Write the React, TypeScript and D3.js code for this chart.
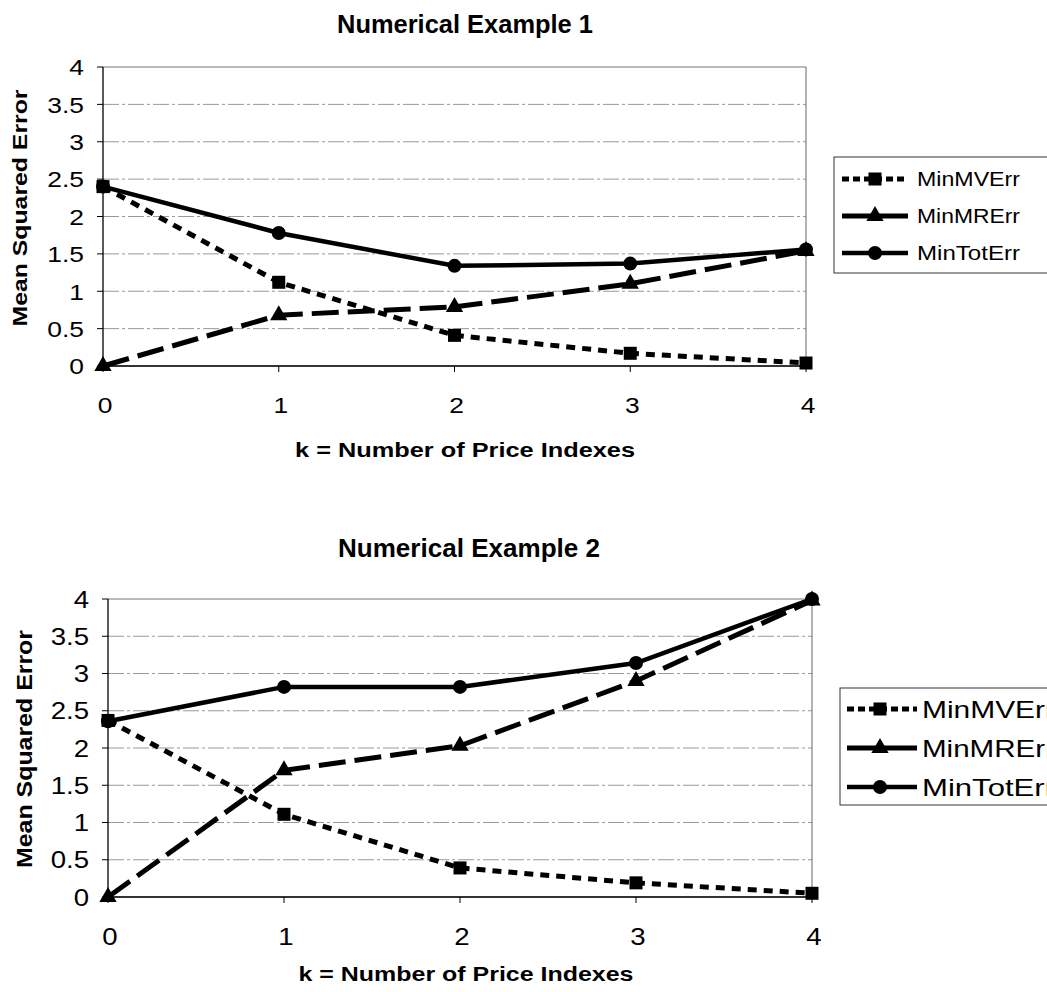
import React from "react";
import * as d3 from "d3";

// ---------- data ----------
const kValues = [0, 1, 2, 3, 4];
const kLabels = ["0", "1", "2", "3", "4"];
const yTickValues = [0, 0.5, 1, 1.5, 2, 2.5, 3, 3.5, 4];
const yTickLabels = ["0", "0.5", "1", "1.5", "2", "2.5", "3", "3.5", "4"];
const seriesNames = ["MinMVErr", "MinMRErr", "MinTotErr"];

const ex1MinMVErr = [2.4, 1.12, 0.41, 0.17, 0.04];
const ex1MinMRErr = [0, 0.68, 0.79, 1.1, 1.54];
const ex1MinTotErr = [2.4, 1.78, 1.34, 1.37, 1.56];

const ex2MinMVErr = [2.37, 1.11, 0.39, 0.19, 0.05];
const ex2MinMRErr = [0, 1.7, 2.03, 2.9, 3.98];
const ex2MinTotErr = [2.36, 2.82, 2.82, 3.14, 4.0];

const FONT = "'Liberation Sans', Arial, Helvetica, sans-serif";

type Layout = {
  x0: number; x1: number; yTop: number; yBottom: number;
  title: string; titleX: number; titleY: number; titleLen: number; titleSize: number;
  xTitleX: number; xTitleY: number; xTitleLen: number; xTitleSize: number;
  yTitleX: number; yTitleY: number; yTitleLen: number; yTitleSize: number;
  tickSize: number; xTickY: number;
  legX: number; legY: number; legW: number; legH: number; legRows: number[];
  legLine0: number; legLine1: number; legMarker: number; legText: number; legFont: number; legTextLen: number;
};

const styles = [
  { dash: "9 7", width: 5, marker: "square" },
  { dash: "27 9", width: 5, marker: "triangle" },
  { dash: "", width: 4.5, marker: "circle" },
];

function Marker({ kind, x, y }: { kind: string; x: number; y: number }) {
  if (kind === "square") return <rect x={x - 6.5} y={y - 6.5} width={13} height={13} fill="#000" />;
  if (kind === "triangle") {
    const p = d3.symbol(d3.symbolTriangle, 130)();
    return <path d={p || ""} transform={`translate(${x},${y})`} fill="#000" />;
  }
  return <circle cx={x} cy={y} r={7} fill="#000" />;
}

function Chart({ L, data }: { L: Layout; data: number[][] }) {
  const x = d3.scaleLinear().domain([0, 4]).range([L.x0, L.x1]);
  const y = d3.scaleLinear().domain([0, 4]).range([L.yBottom, L.yTop]);
  const line = d3.line<number>().x((_, i) => x(kValues[i])).y((d) => y(d));
  return (
    <g>
      <text x={L.titleX} y={L.titleY} textAnchor="middle" fontFamily={FONT} fontWeight="bold"
        fontSize={L.titleSize} textLength={L.titleLen} lengthAdjust="spacingAndGlyphs">{L.title}</text>
      {/* gridlines */}
      {yTickValues.map((v, i) => (
        <line key={"g" + i} x1={L.x0} x2={L.x1} y1={y(v)} y2={y(v)}
          stroke={v === 4 ? "#777" : "#999"} strokeWidth={1}
          strokeDasharray={v === 0 || v === 4 ? "" : "16 3 3 3"} />
      ))}
      {/* right frame */}
      <line x1={L.x1} x2={L.x1} y1={L.yTop} y2={L.yBottom} stroke="#666" strokeWidth={1} />
      {/* axes */}
      <line x1={L.x0} x2={L.x0} y1={L.yTop} y2={L.yBottom} stroke="#000" strokeWidth={1.3} />
      <line x1={L.x0} x2={L.x1} y1={L.yBottom} y2={L.yBottom} stroke="#000" strokeWidth={1.3} />
      {yTickValues.map((v, i) => (
        <g key={"yt" + i}>
          <line x1={L.x0 - 6} x2={L.x0} y1={y(v)} y2={y(v)} stroke="#000" strokeWidth={1} />
          <g transform={`translate(${L.x0 - 19},${y(v) + L.tickSize * 0.38}) scale(1.2,1)`}>
            <text x={0} y={0} textAnchor="end" fontFamily={FONT} fontSize={L.tickSize}>{yTickLabels[i]}</text>
          </g>
        </g>
      ))}
      {kValues.map((k, i) => (
        <g key={"xt" + i}>
          <line x1={x(k)} x2={x(k)} y1={L.yBottom} y2={L.yBottom + 6} stroke="#000" strokeWidth={1} />
          <g transform={`translate(${x(k) + 2},${L.xTickY}) scale(1.2,1)`}>
            <text x={0} y={0} textAnchor="middle" fontFamily={FONT} fontSize={L.tickSize}>{kLabels[i]}</text>
          </g>
        </g>
      ))}
      <text x={L.xTitleX} y={L.xTitleY} textAnchor="middle" fontFamily={FONT} fontWeight="bold"
        fontSize={L.xTitleSize} textLength={L.xTitleLen} lengthAdjust="spacingAndGlyphs">k = Number of Price Indexes</text>
      <text transform={`translate(${L.yTitleX},${L.yTitleY}) rotate(-90)`} textAnchor="middle" fontFamily={FONT}
        fontWeight="bold" fontSize={L.yTitleSize} textLength={L.yTitleLen} lengthAdjust="spacingAndGlyphs">Mean Squared Error</text>
      {/* series */}
      {data.map((s, si) => (
        <g key={"s" + si}>
          <path d={line(s) || ""} fill="none" stroke="#000" strokeWidth={styles[si].width}
            strokeDasharray={styles[si].dash} />
          {s.map((v, i) => <Marker key={i} kind={styles[si].marker} x={x(kValues[i])} y={y(v)} />)}
        </g>
      ))}
      {/* legend */}
      <rect x={L.legX} y={L.legY} width={L.legW} height={L.legH} fill="#fff" stroke="#333" strokeWidth={1} />
      {seriesNames.map((n, si) => (
        <g key={"l" + si}>
          <line x1={L.legLine0} x2={L.legLine1} y1={L.legRows[si]} y2={L.legRows[si]} stroke="#000"
            strokeWidth={styles[si].width} strokeDasharray={si === 0 ? "7 4" : ""} />
          <Marker kind={styles[si].marker} x={L.legMarker} y={L.legRows[si]} />
          <text x={L.legText} y={L.legRows[si] + L.legFont * 0.36} fontFamily={FONT} fontSize={L.legFont}
            textLength={L.legTextLen} lengthAdjust="spacingAndGlyphs">{n}</text>
        </g>
      ))}
    </g>
  );
}

const layout1: Layout = {
  x0: 103, x1: 806, yTop: 67, yBottom: 366,
  title: "Numerical Example 1", titleX: 465, titleY: 33, titleLen: 256, titleSize: 25,
  xTitleX: 465, xTitleY: 457, xTitleLen: 340, xTitleSize: 20,
  yTitleX: 27, yTitleY: 208, yTitleLen: 237, yTitleSize: 21,
  tickSize: 22, xTickY: 413,
  legX: 834, legY: 157, legW: 240, legH: 116, legRows: [179, 216, 253],
  legLine0: 842, legLine1: 908, legMarker: 875, legText: 917, legFont: 20, legTextLen: 103,
};

const layout2: Layout = {
  x0: 108, x1: 812, yTop: 599, yBottom: 897,
  title: "Numerical Example 2", titleX: 469, titleY: 557, titleLen: 262, titleSize: 26,
  xTitleX: 466, xTitleY: 981, xTitleLen: 335, xTitleSize: 21,
  yTitleX: 32, yTitleY: 749, yTitleLen: 238, yTitleSize: 22,
  tickSize: 23, xTickY: 945,
  legX: 840, legY: 688, legW: 240, legH: 117, legRows: [709, 748, 787],
  legLine0: 847, legLine1: 917, legMarker: 880, legText: 922, legFont: 24, legTextLen: 133,
};

export default function App() {
  return (
    <svg width={1047} height={992} style={{ position: "absolute", left: 0, top: 0, background: "#fff" }}>
      <rect width={1047} height={992} fill="#fff" />
      <Chart L={layout1} data={[ex1MinMVErr, ex1MinMRErr, ex1MinTotErr]} />
      <Chart L={layout2} data={[ex2MinMVErr, ex2MinMRErr, ex2MinTotErr]} />
    </svg>
  );
}
